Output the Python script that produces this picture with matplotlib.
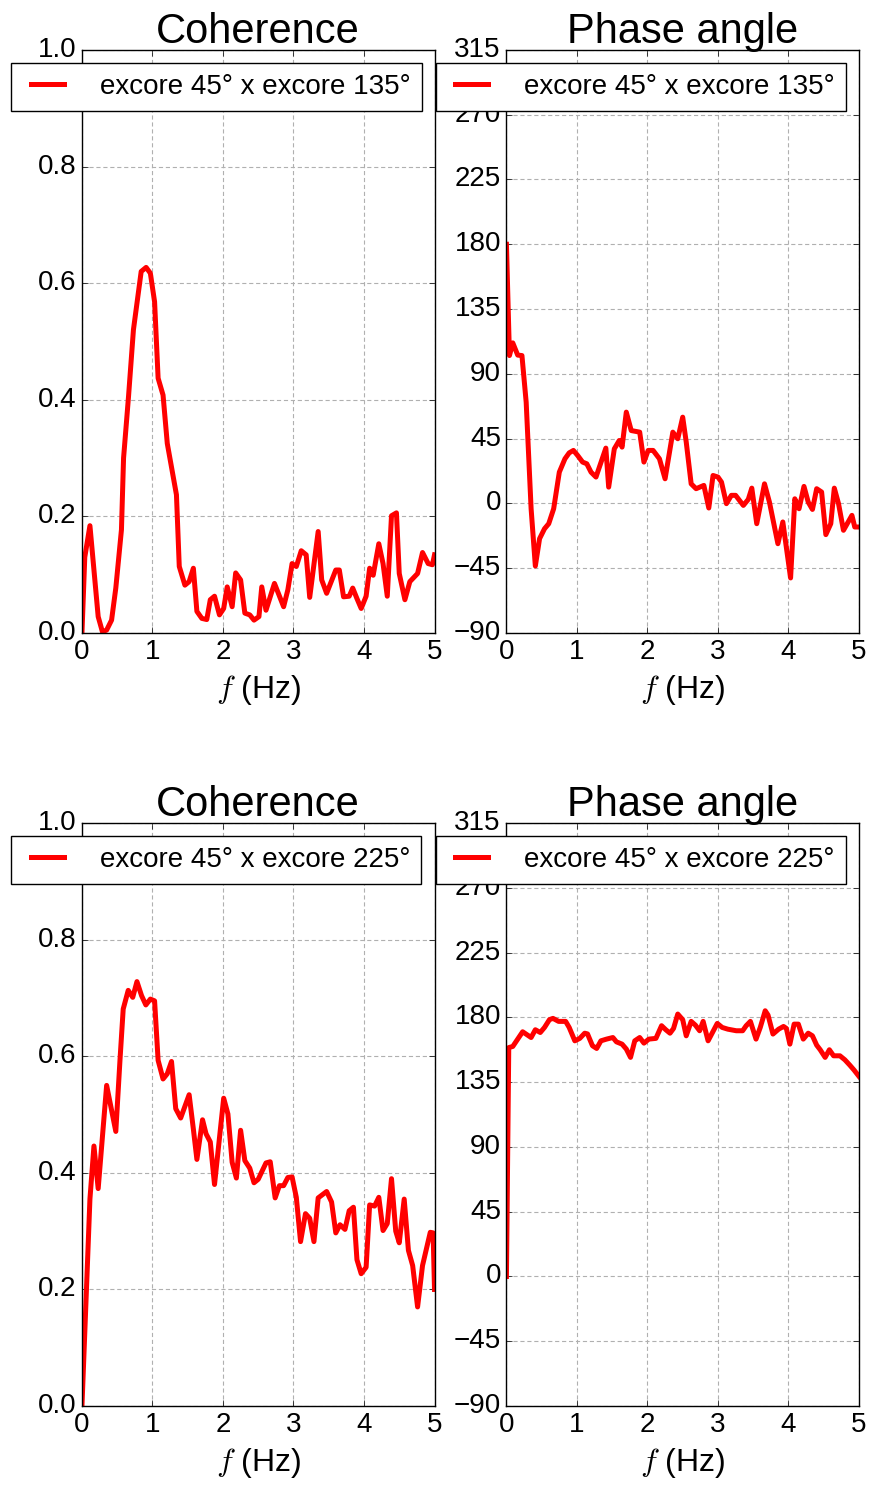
import matplotlib
matplotlib.use("Agg")
import matplotlib.pyplot as plt

plt.style.use("classic")
plt.rcParams["font.family"] = ["Liberation Sans", "DejaVu Sans"]
plt.rcParams["font.size"] = 20

# coherence / phase, excore 45 deg x excore 135 deg
freq_coh_135 = [0.0, 0.04, 0.113, 0.23, 0.29, 0.35, 0.42, 0.48, 0.56, 0.59, 0.66, 0.73,
                0.84, 0.91, 0.97, 1.03, 1.08, 1.15, 1.21, 1.34, 1.38, 1.46, 1.52, 1.58,
                1.63, 1.70, 1.77, 1.82, 1.88, 1.95, 2.01, 2.06, 2.13, 2.18, 2.25, 2.31,
                2.38, 2.44, 2.51, 2.55, 2.61, 2.73, 2.86, 2.92, 2.98, 3.04, 3.11, 3.18,
                3.23, 3.35, 3.40, 3.47, 3.60, 3.65, 3.71, 3.79, 3.84, 3.90, 3.96, 4.03,
                4.08, 4.13, 4.21, 4.27, 4.33, 4.39, 4.46, 4.50, 4.58, 4.65, 4.76, 4.83,
                4.91, 4.97, 5.0]
coh_135 = [0.0, 0.13, 0.184, 0.028, 0.002, 0.005, 0.022, 0.077, 0.177, 0.30, 0.405, 0.52,
           0.62, 0.627, 0.617, 0.568, 0.437, 0.408, 0.325, 0.237, 0.114, 0.082, 0.088, 0.111,
           0.037, 0.025, 0.023, 0.057, 0.063, 0.031, 0.042, 0.079, 0.045, 0.103, 0.091, 0.034,
           0.031, 0.022, 0.028, 0.079, 0.039, 0.085, 0.045, 0.074, 0.119, 0.114, 0.141, 0.134,
           0.061, 0.174, 0.091, 0.068, 0.108, 0.108, 0.062, 0.063, 0.077, 0.059, 0.042, 0.063,
           0.111, 0.099, 0.153, 0.119, 0.063, 0.201, 0.206, 0.102, 0.057, 0.088, 0.102, 0.138,
           0.119, 0.117, 0.134]

freq_ph_135 = [0.0, 0.043, 0.09, 0.16, 0.22, 0.28, 0.35, 0.41, 0.47, 0.54, 0.60, 0.67,
               0.75, 0.83, 0.89, 0.95, 1.01, 1.08, 1.14, 1.20, 1.27, 1.41, 1.45, 1.53,
               1.60, 1.64, 1.70, 1.77, 1.89, 1.95, 2.01, 2.08, 2.17, 2.25, 2.36, 2.43,
               2.50, 2.55, 2.62, 2.69, 2.80, 2.87, 2.93, 3.00, 3.05, 3.12, 3.19, 3.25,
               3.36, 3.43, 3.48, 3.55, 3.66, 3.73, 3.85, 3.92, 4.03, 4.09, 4.15, 4.22,
               4.28, 4.34, 4.40, 4.47, 4.53, 4.60, 4.65, 4.71, 4.78, 4.90, 4.94, 5.0]
phase_135 = [180, 102.7, 111.5, 103, 102.7, 70.3, -3.7, -43.5, -24.5, -17.6, -14.1, -3.7,
             21.7, 31, 35.1, 36.8, 33.3, 28.7, 27.5, 21.7, 18.3, 38.4, 11.3, 37.9,
             43.7, 39.1, 63.4, 50.6, 49.5, 28.7, 36.8, 36.8, 31, 17.1, 49.5, 44.9,
             59.9, 42.6, 13.6, 10.2, 12.5, -3.2, 19.4, 18.3, 14.8, -0.2, 5.6, 5.6,
             -1.4, 2.8, 10.6, -14.1, 13.6, 0.9, -28, -12.9, -51.8, 3.2, -3.7, 11.8,
             0.9, -4.2, 10.2, 7.9, -21.7, -14.1, 10.6, -0.2, -18.7, -8.3, -16.4, -16.4]

# coherence / phase, excore 45 deg x excore 225 deg
freq_coh_225 = [0.0, 0.113, 0.17, 0.23, 0.35, 0.48, 0.54, 0.585, 0.656, 0.72, 0.78, 0.845,
                0.906, 0.97, 1.03, 1.08, 1.15, 1.21, 1.27, 1.33, 1.40, 1.52, 1.58, 1.63,
                1.71, 1.76, 1.82, 1.88, 2.01, 2.07, 2.13, 2.19, 2.25, 2.31, 2.38, 2.44,
                2.50, 2.61, 2.67, 2.74, 2.80, 2.86, 2.92, 2.98, 3.04, 3.10, 3.17, 3.23,
                3.29, 3.35, 3.47, 3.54, 3.60, 3.66, 3.73, 3.79, 3.85, 3.90, 3.96, 4.03,
                4.08, 4.15, 4.21, 4.27, 4.33, 4.39, 4.45, 4.50, 4.57, 4.63, 4.69, 4.76,
                4.83, 4.94, 4.98, 5.0]
coh_225 = [0.0, 0.355, 0.446, 0.373, 0.55, 0.471, 0.595, 0.681, 0.713, 0.701, 0.728, 0.704,
           0.688, 0.698, 0.695, 0.593, 0.561, 0.570, 0.591, 0.51, 0.494, 0.534, 0.475, 0.423,
           0.491, 0.467, 0.453, 0.38, 0.528, 0.501, 0.418, 0.391, 0.473, 0.421, 0.408, 0.383,
           0.389, 0.417, 0.419, 0.357, 0.378, 0.378, 0.392, 0.393, 0.358, 0.282, 0.33, 0.322,
           0.282, 0.357, 0.368, 0.35, 0.297, 0.311, 0.303, 0.335, 0.341, 0.251, 0.227, 0.238,
           0.345, 0.343, 0.358, 0.301, 0.313, 0.39, 0.300, 0.28, 0.355, 0.267, 0.241, 0.170,
           0.241, 0.298, 0.297, 0.2]

freq_ph_225 = [0.0, 0.033, 0.09, 0.16, 0.23, 0.35, 0.41, 0.48, 0.54, 0.61, 0.66, 0.74,
               0.84, 0.89, 0.97, 1.04, 1.11, 1.15, 1.22, 1.28, 1.34, 1.42, 1.51, 1.56,
               1.64, 1.70, 1.76, 1.82, 1.89, 1.95, 2.02, 2.12, 2.20, 2.26, 2.32, 2.37,
               2.43, 2.50, 2.55, 2.62, 2.68, 2.74, 2.79, 2.86, 2.99, 3.06, 3.14, 3.26,
               3.35, 3.40, 3.46, 3.54, 3.60, 3.67, 3.71, 3.78, 3.86, 3.93, 3.97, 4.02,
               4.08, 4.14, 4.21, 4.28, 4.34, 4.40, 4.45, 4.52, 4.58, 4.64, 4.73, 4.80,
               4.87, 4.93, 5.0]
phase_225 = [0, 159, 159.8, 164.9, 170, 166, 171.4, 169.5, 173, 178.4, 179.3, 177.2,
             177.2, 173, 163.7, 165.4, 169, 168.5, 160.3, 158.4, 163.7, 164.9, 166, 163,
             161.4, 158, 152.2, 163.7, 166, 162.1, 164.9, 165.4, 174.2, 171.4, 169, 172.3,
             182.3, 178.4, 167.2, 177.2, 174.6, 170.7, 177.2, 163.7, 175.8, 173, 171.8, 170.7,
             170.7, 174.2, 177.2, 164.9, 173, 184.6, 181.6, 168.4, 171.8, 173.7, 172.3, 161.4,
             175.3, 175.3, 164.9, 169, 167.2, 160.7, 157.5, 152.2, 157.5, 153.3, 153.3, 150.5,
             146.8, 143.4, 139]

labels = ["excore 45\u00b0 x excore 135\u00b0", "excore 45\u00b0 x excore 225\u00b0"]
coh_ticks = [0.0, 0.2, 0.4, 0.6, 0.8, 1.0]
phase_ticks = list(range(-90, 316, 45))
freq_ticks = [0, 1, 2, 3, 4, 5]

rows = [
    (freq_coh_135, coh_135, freq_ph_135, phase_135, labels[0]),
    (freq_coh_225, coh_225, freq_ph_225, phase_225, labels[1]),
]

fig, axes = plt.subplots(2, 2, figsize=(8.71, 14.86), dpi=100, facecolor="white")
fig.subplots_adjust(left=0.0941, right=0.9862, top=0.9664, bottom=0.0538,
                    wspace=0.204, hspace=0.326)

for (fc, coh, fp, ph, lab), (ax_c, ax_p) in zip(rows, axes):
    ax_c.plot(fc, coh, color="red", lw=3.6, label=lab)
    ax_c.set_ylim(0, 1)
    ax_c.set_yticks(coh_ticks)
    ax_c.set_title("Coherence", fontsize=30)

    ax_p.plot(fp, ph, color="red", lw=3.6, label=lab)
    ax_p.set_ylim(-90, 315)
    ax_p.set_yticks(phase_ticks)
    ax_p.set_title("Phase angle", fontsize=30)

    for ax in (ax_c, ax_p):
        ax.set_xlim(0, 5)
        ax.set_xticks(freq_ticks)
        ax.set_xlabel("$f$ (Hz)", fontsize=23, labelpad=6)
        ax.set_axisbelow(True)
        ax.grid(True, color="#b0b0b0", linestyle="--", linewidth=0.8, dashes=(3, 2))
        ax.tick_params(labelsize=20)
        leg = ax.legend(loc="upper left", bbox_to_anchor=(-0.201, 0.978),
                        borderaxespad=0, fontsize=20, handlelength=1.8,
                        handletextpad=1.0, fancybox=False)
        leg.get_frame().set_edgecolor("black")

fig.savefig("out.png", dpi=100, facecolor="white")
